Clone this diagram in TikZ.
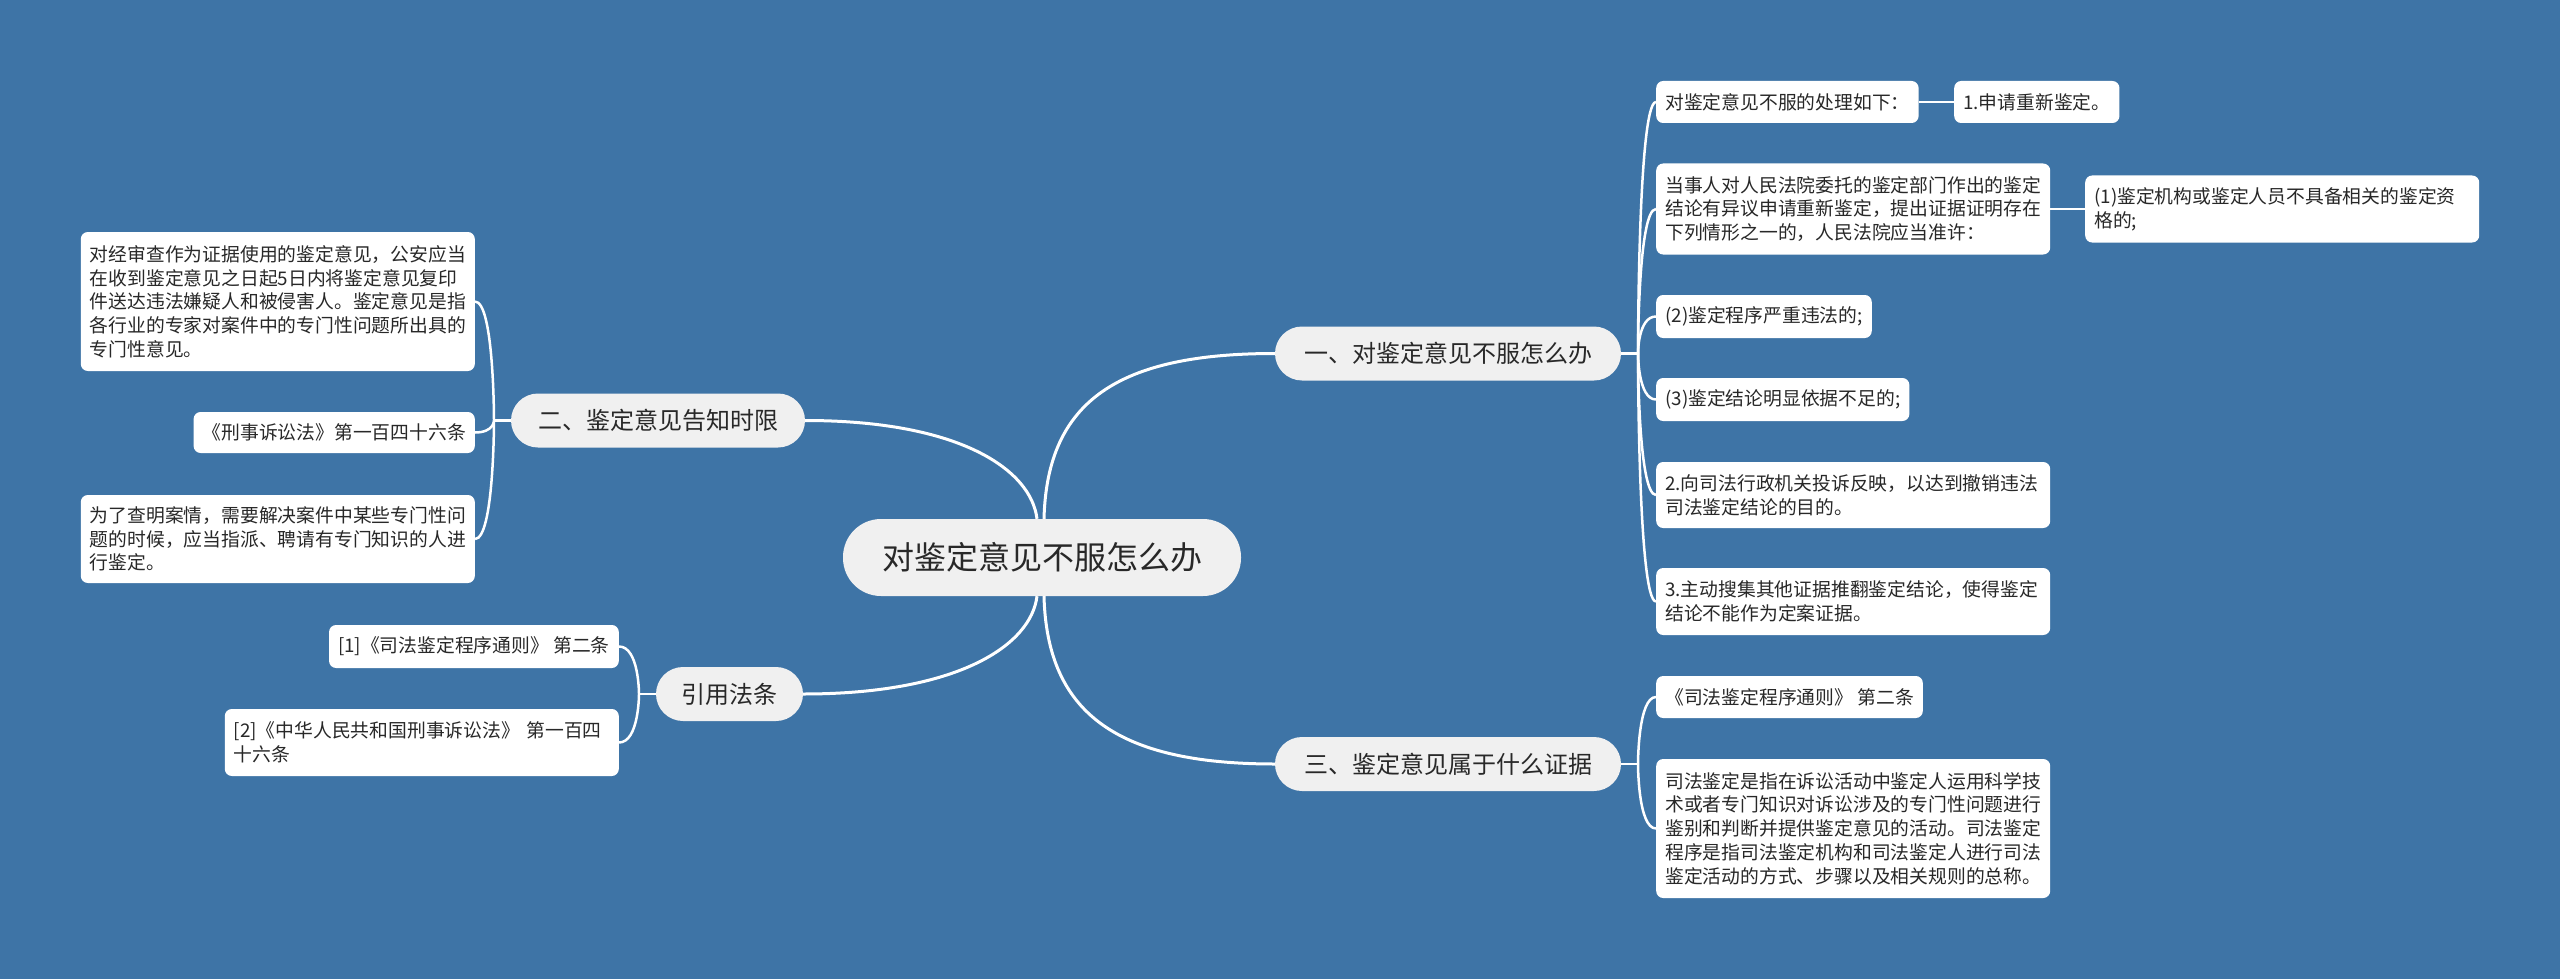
\documentclass[tikz,border=0pt]{standalone}
\usepackage{fontspec}
\setmainfont{Noto Sans CJK SC}
\definecolor{bg}{RGB}{62,116,166}
\definecolor{brfill}{RGB}{240,240,240}
\definecolor{txt}{RGB}{40,40,40}
\tikzset{
  leaf/.style={fill=white, rounded corners=7pt, inner xsep=9pt, inner ysep=0pt,
    font=\fontsize{18.8}{23.7}\selectfont, text=txt, align=left},
  mleaf/.style={leaf, text width=376pt},
  branch/.style={fill=brfill, rounded corners=27pt, minimum height=54pt,
    font=\fontsize{24}{28}\selectfont, text=txt, inner sep=0pt},
  rootnode/.style={fill=brfill, rounded corners=38pt, minimum height=77pt, minimum width=398pt,
    font=\fontsize{32}{36}\selectfont, text=txt, inner sep=0pt},
  link/.style={draw=white, line width=2.5pt},
  mainlink/.style={draw=white, line width=3pt},
}
\begin{document}
\begin{tikzpicture}[x=1pt,y=-1pt]
\useasboundingbox (0,0) rectangle (2560,979);
\fill[bg] (0,0) rectangle (2560,979);

% root
\node[rootnode] (root) at (1042,557.5) {对鉴定意见不服怎么办};

% branches
\node[branch, minimum width=346pt] (b1) at (1448,353.5) {一、对鉴定意见不服怎么办};
\node[branch, minimum width=294pt] (b2) at (658,420.5) {二、鉴定意见告知时限};
\node[branch, minimum width=346pt] (b3) at (1448,764) {三、鉴定意见属于什么证据};
\node[branch, minimum width=147pt] (b4) at (729.5,694) {引用法条};

% right leaves of b1
\node[leaf, minimum height=42pt, anchor=west] (r1a) at (1656,102) {对鉴定意见不服的处理如下：};
\node[leaf, minimum height=42pt, anchor=west] (r1ac) at (1954,102) {1.申请重新鉴定。};
\node[mleaf, minimum height=91pt, anchor=west] (r1b) at (1656,209) {当事人对人民法院委托的鉴定部门作出的鉴定\\结论有异议申请重新鉴定，提出证据证明存在\\下列情形之一的，人民法院应当准许：};
\node[mleaf, minimum height=67pt, anchor=west] (r1bc) at (2085,209) {(1)鉴定机构或鉴定人员不具备相关的鉴定资\\格的;};
\node[leaf, minimum height=43pt, anchor=west] (r1c) at (1656,316.5) {(2)鉴定程序严重违法的;};
\node[leaf, minimum height=43pt, anchor=west] (r1d) at (1656,399.5) {(3)鉴定结论明显依据不足的;};
\node[mleaf, minimum height=66pt, anchor=west] (r1e) at (1656,495) {2.向司法行政机关投诉反映，以达到撤销违法\\司法鉴定结论的目的。};
\node[mleaf, minimum height=67pt, anchor=west] (r1f) at (1656,601.5) {3.主动搜集其他证据推翻鉴定结论，使得鉴定\\结论不能作为定案证据。};

% right leaves of b3
\node[leaf, minimum height=42pt, anchor=west] (r3a) at (1656,697) {《司法鉴定程序通则》 第二条};
\node[mleaf, minimum height=139pt, anchor=west] (r3b) at (1656,828.5) {司法鉴定是指在诉讼活动中鉴定人运用科学技\\术或者专门知识对诉讼涉及的专门性问题进行\\鉴别和判断并提供鉴定意见的活动。司法鉴定\\程序是指司法鉴定机构和司法鉴定人进行司法\\鉴定活动的方式、步骤以及相关规则的总称。};

% left leaves of b2
\node[mleaf, minimum height=139pt, anchor=east] (l2a) at (475,301.5) {对经审查作为证据使用的鉴定意见，公安应当\\在收到鉴定意见之日起5日内将鉴定意见复印\\件送达违法嫌疑人和被侵害人。鉴定意见是指\\各行业的专家对案件中的专门性问题所出具的\\专门性意见。};
\node[leaf, minimum height=41pt, anchor=east] (l2b) at (475,432.5) {《刑事诉讼法》第一百四十六条};
\node[mleaf, minimum height=88pt, anchor=east] (l2c) at (475,539) {为了查明案情，需要解决案件中某些专门性问\\题的时候，应当指派、聘请有专门知识的人进\\行鉴定。};

% left leaves of b4
\node[leaf, minimum height=43pt, anchor=east] (l4a) at (619,646.5) {[1]《司法鉴定程序通则》 第二条};
\node[mleaf, minimum height=67pt, anchor=east] (l4b) at (619,742.5) {[2]《中华人民共和国刑事诉讼法》 第一百四\\十六条};

% root connectors
\draw[mainlink] ([xshift=2pt]root.north) .. controls +(3,-119) and +(-155,0) .. (b1.west);
\draw[mainlink] ([xshift=-5pt]root.north) .. controls +(-6,-49) and +(155,0) .. (b2.east);
\draw[mainlink] ([xshift=2pt]root.south) .. controls +(3,119) and +(-155,0) .. (b3.west);
\draw[mainlink] ([xshift=-5pt]root.south) .. controls +(-6,49) and +(155,0) .. (b4.east);

% b1 trunk
\coordinate (j1) at (1638,353.5);
\draw[link] (b1.east) -- (j1);
\foreach \c in {r1a,r1b,r1c,r1d,r1e,r1f} \draw[link] (j1) .. controls (j1) and (j1 |- \c.west) .. (\c.west);
\draw[link] (r1a.east) -- (r1ac.west);
\draw[link] (r1b.east) -- (r1bc.west);

% b3 trunk
\coordinate (j3) at (1638,764);
\draw[link] (b3.east) -- (j3);
\foreach \c in {r3a,r3b} \draw[link] (j3) .. controls (j3) and (j3 |- \c.west) .. (\c.west);

% b2 trunk
\coordinate (j2) at (494,420.5);
\draw[link] (b2.west) -- (j2);
\foreach \c in {l2a,l2b,l2c} \draw[link] (j2) .. controls (j2) and (j2 |- \c.east) .. (\c.east);

% b4 trunk
\coordinate (j4) at (639,694);
\draw[link] (b4.west) -- (j4);
\foreach \c in {l4a,l4b} \draw[link] (j4) .. controls (j4) and (j4 |- \c.east) .. (\c.east);
\end{tikzpicture}
\end{document}
